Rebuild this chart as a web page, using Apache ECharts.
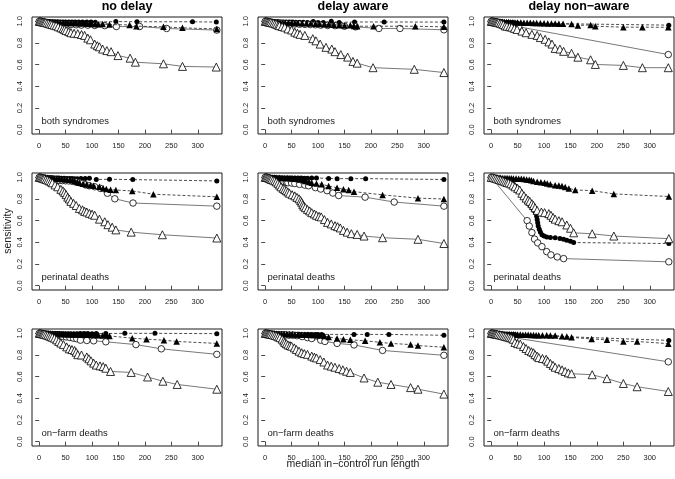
<!DOCTYPE html>
<html><head><meta charset="utf-8">
<script src="https://cdn.jsdelivr.net/npm/echarts@6/dist/echarts.min.js"></script>
<style>html,body{margin:0;padding:0;background:#fff}#c{width:675px;height:479px}</style>
</head><body><div id="c"></div>
<script>
const columnTitles = ['no delay', 'delay aware', 'delay non\u2212aware'];
const rowLabels = ['both syndromes', 'perinatal deaths', 'on\u2212farm deaths'];
const xAxisTitle = 'median in\u2212control run length';
const yAxisTitle = 'sensitivity';
const xTicks = [0, 50, 100, 150, 200, 250, 300];
const yTicks = [0, 0.2, 0.4, 0.6, 0.8, 1.0];

// ---------- no delay / both syndromes ----------
const noDelay_both_filledCircle = [[0,1],[2,1],[4,1],[6,1],[8,1],[10,1],[13,1],[16,0.998],[19,0.998],[22,0.997],[26,0.997],[30,0.996],[35,0.996],[40,0.995],[45,0.995],[50,0.995],[56,0.994],[62,0.994],[68,0.993],[75,0.993],[82,0.993],[90,0.993],[98,0.993],[106,0.992],[145,0.998],[185,0.996],[290,0.996],[335,0.993]];
const noDelay_both_openCircle = [[0,1],[3,0.998],[6,0.995],[10,0.99],[15,0.985],[20,0.98],[25,0.978],[30,0.975],[36,0.975],[42,0.972],[50,0.97],[60,0.97],[70,0.968],[80,0.965],[92,0.965],[105,0.962],[124,0.96],[146,0.952],[190,0.952],[241,0.934],[336,0.919]];
const noDelay_both_filledTriangle = [[0,1],[3,1],[6,1],[9,0.998],[12,0.997],[15,0.996],[20,0.995],[25,0.993],[30,0.99],[35,0.99],[40,0.988],[45,0.988],[50,0.986],[55,0.985],[60,0.985],[65,0.984],[70,0.984],[75,0.983],[80,0.982],[85,0.982],[90,0.98],[95,0.978],[100,0.976],[106,0.975],[112,0.972],[120,0.975],[133,0.97],[171,0.967],[184,0.955],[235,0.949],[271,0.94],[336,0.93]];
const noDelay_both_openTriangle = [[0,1],[2,1],[4,0.998],[6,0.995],[8,0.993],[10,0.99],[12,0.988],[15,0.985],[18,0.98],[21,0.975],[24,0.97],[28,0.965],[32,0.96],[36,0.95],[41,0.94],[45,0.932],[48,0.925],[51,0.915],[56,0.905],[60,0.895],[66,0.89],[73,0.886],[80,0.878],[86,0.87],[92,0.845],[97,0.83],[105,0.79],[110,0.775],[114,0.765],[120,0.744],[128,0.73],[136,0.72],[149,0.684],[172,0.66],[182,0.623],[235,0.608],[271,0.584],[335,0.578]];

// ---------- delay aware / both syndromes ----------
const delayAware_both_filledCircle = [[0,1],[3,1],[6,1],[9,1],[12,1],[16,0.998],[20,0.997],[25,0.996],[30,0.995],[35,0.995],[40,0.994],[46,0.993],[52,0.993],[58,0.992],[65,0.992],[72,0.991],[80,0.99],[91,0.998],[100,0.99],[110,0.99],[125,1.0],[140,0.99],[169,0.994],[225,0.994],[338,0.993]];
const delayAware_both_openCircle = [[0,1],[4,0.997],[8,0.993],[12,0.99],[17,0.987],[22,0.985],[28,0.982],[34,0.98],[40,0.978],[48,0.976],[56,0.975],[65,0.973],[75,0.972],[85,0.97],[95,0.968],[105,0.965],[118,0.962],[132,0.96],[150,0.955],[171,0.949],[215,0.934],[255,0.934],[338,0.922]];
const delayAware_both_filledTriangle = [[0,1],[3,1],[6,1],[10,0.998],[14,0.997],[18,0.995],[23,0.993],[28,0.99],[33,0.99],[38,0.988],[44,0.987],[50,0.986],[56,0.985],[62,0.984],[70,0.983],[78,0.982],[86,0.98],[95,0.978],[103,0.975],[112,0.972],[120,0.97],[130,0.968],[140,0.965],[150,0.962],[161,0.964],[168,0.958],[174,0.955],[205,0.955],[284,0.955],[338,0.949]];
const delayAware_both_openTriangle = [[0,1],[2,1],[4,0.998],[6,0.995],[8,0.993],[10,0.99],[13,0.987],[16,0.983],[19,0.978],[22,0.972],[25,0.965],[27,0.96],[32,0.952],[37,0.946],[43,0.93],[50,0.92],[56,0.9],[61,0.89],[66,0.88],[75,0.87],[90,0.84],[96,0.82],[104,0.79],[115,0.76],[126,0.744],[132,0.72],[143,0.693],[156,0.67],[166,0.63],[174,0.614],[204,0.572],[282,0.557],[338,0.527]];

// ---------- delay non-aware / both syndromes ----------
const delayNonAware_both_filledCircle = [[0,1],[2,1],[4,1],[6,0.999],[8,0.998],[10,0.997],[13,0.996],[16,0.995],[19,0.994],[22,0.993],[25,0.992],[28,0.99],[31,0.989],[34,0.988],[37,0.987],[40,0.986],[43,0.985],[46,0.984],[50,0.983],[336,0.965]];
const delayNonAware_both_openCircle = [[0,1],[3,0.998],[6,0.995],[9,0.992],[12,0.99],[15,0.987],[18,0.984],[21,0.981],[24,0.978],[27,0.975],[30,0.972],[33,0.97],[36,0.967],[40,0.963],[44,0.96],[48,0.955],[52,0.95],[335,0.693]];
const delayNonAware_both_filledTriangle = [[0,1],[3,1],[6,1],[9,1],[12,0.999],[15,0.998],[18,0.997],[21,0.996],[25,0.995],[29,0.994],[33,0.993],[37,0.992],[41,0.991],[45,0.99],[50,0.99],[56,0.989],[62,0.988],[68,0.987],[74,0.986],[80,0.985],[86,0.984],[93,0.983],[100,0.982],[107,0.981],[114,0.98],[121,0.979],[128,0.978],[136,0.977],[152,0.975],[164,0.962],[188,0.967],[197,0.955],[250,0.946],[286,0.946],[335,0.945]];
const delayNonAware_both_openTriangle = [[0,1],[2,1],[4,0.998],[6,0.996],[8,0.994],[10,0.992],[12,0.99],[14,0.987],[17,0.983],[20,0.978],[23,0.97],[26.5,0.958],[30,0.955],[35,0.95],[39,0.946],[44,0.935],[49,0.925],[58,0.91],[66,0.895],[77,0.88],[87,0.87],[93,0.85],[102,0.834],[109,0.81],[115,0.79],[121,0.75],[130,0.744],[137,0.723],[152,0.705],[164,0.669],[188,0.645],[197,0.602],[250,0.593],[286,0.572],[335,0.572]];

// ---------- no delay / perinatal deaths ----------
const noDelay_peri_filledCircle = [[0,1],[3,1],[6,1],[9,1],[12,1],[15,0.999],[18,0.998],[21,0.997],[25,0.996],[29,0.995],[33,0.994],[37,0.993],[42,0.992],[47,0.991],[52,0.99],[57,0.99],[62,0.989],[67,0.988],[72,0.988],[79,0.99],[87,0.99],[95,0.992],[108,0.98],[133,0.982],[177,0.979],[336,0.967]];
const noDelay_peri_openCircle = [[0,1],[3,0.998],[6,0.996],[9,0.993],[12,0.99],[16,0.987],[20,0.984],[24,0.981],[28,0.978],[33,0.975],[38,0.972],[44,0.97],[50,0.968],[56,0.967],[63,0.963],[70,0.957],[76,0.95],[82,0.943],[88,0.93],[95,0.922],[105,0.913],[116,0.898],[129,0.853],[143,0.802],[177.5,0.763],[336,0.734]];
const noDelay_peri_filledTriangle = [[0,1],[3,1],[6,1],[9,0.999],[12,0.998],[16,0.996],[20,0.994],[24,0.992],[28,0.99],[33,0.988],[38,0.986],[43,0.984],[48,0.982],[53,0.98],[58,0.977],[63,0.972],[67,0.967],[72,0.958],[76,0.949],[83,0.94],[90,0.934],[97,0.928],[103,0.922],[114,0.913],[121,0.9],[127,0.892],[135,0.885],[145,0.883],[176,0.874],[216,0.844],[336,0.82]];
const noDelay_peri_openTriangle = [[0,1],[2,1],[4,0.997],[6,0.993],[8,0.99],[10,0.986],[13,0.981],[16,0.975],[19,0.968],[22,0.958],[25,0.949],[30,0.93],[35,0.913],[41,0.889],[45,0.875],[48,0.859],[51,0.84],[54,0.817],[57,0.8],[60,0.778],[65,0.76],[70,0.74],[76,0.713],[82,0.7],[86,0.686],[90,0.68],[95,0.668],[100,0.66],[105,0.65],[114,0.614],[124,0.59],[130,0.563],[138,0.54],[145,0.515],[174,0.494],[233,0.47],[336,0.44]];

// ---------- delay aware / perinatal deaths ----------
const delayAware_peri_filledCircle = [[0,1],[3,1],[6,1],[9,1],[12,1],[16,0.999],[20,0.998],[25,0.997],[30,0.996],[35,0.995],[40,0.995],[45,0.994],[50,0.994],[56,0.993],[62,0.993],[68,0.993],[74,0.992],[80,0.992],[88,0.993],[97,0.994],[120,0.99],[136,0.988],[162,0.988],[190,0.988],[338,0.98]];
const delayAware_peri_openCircle = [[0,1],[3,0.997],[6,0.993],[9,0.989],[12,0.985],[16,0.98],[20,0.976],[25,0.972],[30,0.968],[35,0.962],[40,0.955],[43,0.95],[50,0.947],[56,0.943],[65,0.935],[75,0.928],[82,0.922],[95,0.905],[105,0.892],[117,0.877],[128,0.855],[139,0.832],[189,0.817],[244,0.772],[338,0.734]];
const delayAware_peri_filledTriangle = [[0,1],[3,1],[6,1],[10,1],[14,0.999],[18,0.998],[22,0.997],[27,0.996],[32,0.995],[37,0.994],[42,0.993],[47,0.992],[52,0.99],[57,0.988],[62,0.985],[66,0.979],[72,0.972],[77,0.967],[83,0.958],[88,0.949],[97,0.943],[107,0.937],[120,0.919],[136,0.904],[148,0.889],[158,0.883],[168,0.868],[222,0.838],[289,0.808],[338,0.8]];
const delayAware_peri_openTriangle = [[0,1],[2,1],[4,0.998],[6,0.995],[8,0.99],[10,0.985],[12,0.98],[15,0.975],[18,0.968],[21,0.958],[24,0.945],[27,0.928],[30,0.912],[34,0.898],[37,0.888],[40,0.877],[43,0.865],[46,0.853],[51,0.84],[56,0.829],[60,0.815],[64,0.802],[67,0.785],[69,0.77],[71,0.75],[73,0.734],[76,0.72],[80,0.704],[84,0.69],[88,0.674],[93,0.662],[97,0.65],[102,0.64],[106,0.635],[112,0.61],[118,0.584],[125,0.57],[132,0.554],[137,0.545],[142,0.533],[148,0.51],[155,0.494],[163,0.48],[174,0.473],[187,0.458],[222,0.443],[289,0.428],[338,0.389]];

// ---------- delay non-aware / perinatal deaths ----------
const delayNonAware_peri_filledCircle = [[0,1],[2,1],[4,0.998],[6,0.996],[8,0.994],[10,0.992],[12,0.99],[15,0.988],[18,0.985],[21,0.982],[24,0.98],[27,0.978],[30,0.975],[33,0.97],[36,0.962],[39,0.95],[42,0.935],[45,0.92],[48,0.905],[51,0.89],[54,0.87],[57,0.85],[60,0.83],[63,0.81],[66,0.79],[69,0.77],[72,0.75],[75,0.735],[78,0.715],[81,0.695],[84,0.67],[86,0.64],[87,0.61],[88,0.58],[89,0.55],[91,0.52],[93,0.495],[96,0.47],[100,0.458],[105,0.449],[112,0.445],[121,0.443],[130,0.435],[137,0.428],[143,0.42],[150,0.41],[156,0.398],[336,0.389]];
const delayNonAware_peri_openCircle = [[0,1],[68,0.6],[72,0.55],[77,0.49],[82,0.43],[88,0.395],[96,0.36],[105,0.314],[113,0.284],[125,0.265],[137,0.25],[336,0.22]];
const delayNonAware_peri_filledTriangle = [[0,1],[3,1],[6,1],[9,0.999],[12,0.998],[15,0.997],[18,0.996],[22,0.995],[26,0.994],[30,0.993],[34,0.992],[38,0.991],[42,0.99],[47,0.989],[52,0.988],[57,0.986],[62,0.984],[67,0.981],[72,0.978],[76,0.973],[80,0.967],[87,0.96],[94,0.955],[101,0.949],[106,0.943],[112,0.937],[121,0.928],[128,0.925],[134,0.919],[140,0.91],[147,0.898],[159,0.883],[191,0.877],[232,0.847],[336,0.823]];
const delayNonAware_peri_openTriangle = [[0,1],[3,0.998],[6,0.995],[9,0.99],[12,0.985],[15,0.98],[18,0.975],[21,0.97],[24,0.965],[27,0.958],[30,0.952],[33,0.949],[37,0.94],[41,0.928],[45,0.913],[50,0.898],[54,0.883],[58,0.853],[62,0.83],[66,0.808],[70,0.79],[73,0.778],[77,0.757],[80,0.74],[83,0.719],[87,0.695],[95,0.68],[101,0.674],[109,0.665],[113,0.65],[117,0.63],[121,0.614],[128,0.6],[134,0.59],[143,0.56],[150,0.53],[156,0.488],[191,0.479],[232,0.458],[336,0.434]];

// ---------- no delay / on-farm deaths ----------
const noDelay_farm_filledCircle = [[0,1],[3,1],[6,1],[9,1],[12,1],[15,1],[18,1],[21,1],[25,1],[29,0.998],[33,0.998],[37,0.998],[41,0.997],[45,0.997],[50,0.997],[55,0.997],[60,0.997],[66,0.997],[72,0.997],[78,0.998],[85,0.998],[92,0.998],[100,0.997],[108,0.998],[126,0.998],[162,1.0],[219,1.0],[336,0.997]];
const noDelay_farm_openCircle = [[0,1],[3,0.998],[6,0.996],[10,0.994],[14,0.992],[18,0.99],[22,0.988],[25,0.986],[30,0.982],[34,0.979],[38,0.976],[44,0.972],[51,0.967],[58,0.962],[65,0.955],[71,0.95],[78,0.937],[90,0.934],[103,0.931],[126,0.922],[183,0.896],[231,0.857],[336,0.806]];
const noDelay_farm_filledTriangle = [[0,1],[3,1],[6,1],[9,1],[12,1],[15,0.999],[18,0.999],[22,0.998],[26,0.997],[30,0.996],[34,0.995],[38,0.994],[42,0.993],[46,0.993],[50,0.992],[55,0.991],[60,0.99],[65,0.99],[70,0.99],[76,0.989],[82,0.988],[88,0.987],[94,0.986],[100,0.985],[106,0.984],[112,0.982],[120,0.98],[126,0.99],[128,0.985],[133,0.976],[176,0.955],[203,0.946],[236,0.937],[260,0.925],[336,0.907]];
const noDelay_farm_openTriangle = [[0,1],[2,1],[4,0.998],[6,0.996],[8,0.994],[10,0.991],[13,0.987],[16,0.982],[19,0.976],[22,0.97],[25,0.963],[29,0.955],[33,0.94],[37,0.925],[41,0.91],[46,0.896],[52,0.875],[57,0.857],[62,0.85],[67,0.842],[70,0.825],[73,0.803],[80,0.8],[90,0.782],[94,0.765],[98,0.746],[103,0.725],[108,0.707],[115,0.7],[121,0.693],[126,0.678],[135,0.648],[174,0.639],[205,0.597],[234,0.558],[261,0.528],[336,0.484]];

// ---------- delay aware / on-farm deaths ----------
const delayAware_farm_filledCircle = [[0,1],[3,1],[6,1],[9,1],[12,1],[16,1],[20,0.999],[25,0.998],[30,0.997],[35,0.996],[40,0.995],[46,0.994],[52,0.993],[58,0.992],[64,0.991],[70,0.99],[76,0.99],[82,0.99],[88,0.99],[95,0.99],[100,0.99],[107,0.99],[168,0.99],[193,0.99],[234,0.99],[338,0.982]];
const delayAware_farm_openCircle = [[0,1],[3,0.998],[6,0.996],[9,0.994],[13,0.992],[17,0.99],[22,0.988],[27,0.986],[32,0.985],[38,0.984],[45,0.983],[52,0.982],[60,0.978],[70,0.97],[80,0.96],[88,0.952],[105,0.937],[113,0.925],[136,0.907],[168,0.893],[222,0.842],[338,0.797]];
const delayAware_farm_filledTriangle = [[0,1],[3,1],[6,1],[9,1],[13,0.999],[17,0.998],[21,0.997],[26,0.996],[31,0.995],[36,0.994],[41,0.993],[46,0.992],[51,0.991],[56,0.99],[62,0.989],[68,0.988],[74,0.987],[80,0.986],[86,0.985],[92,0.984],[98,0.983],[104,0.98],[112,0.975],[120,0.967],[136,0.952],[148,0.946],[161,0.94],[189,0.931],[217,0.917],[238,0.907],[275,0.896],[289,0.887],[338,0.872]];
const delayAware_farm_openTriangle = [[0,1],[2,1],[4,0.998],[6,0.996],[8,0.994],[10,0.992],[13,0.989],[16,0.985],[19,0.98],[22,0.975],[25,0.968],[28,0.96],[32,0.946],[35,0.93],[37,0.916],[40,0.905],[43,0.893],[47,0.887],[50,0.881],[55,0.866],[59,0.851],[64,0.835],[69,0.821],[74,0.813],[80,0.806],[88,0.79],[93,0.78],[97,0.773],[104,0.758],[111,0.735],[118,0.707],[125,0.697],[132,0.687],[140,0.675],[147,0.663],[154,0.65],[161,0.639],[187,0.588],[213,0.549],[238,0.528],[275,0.499],[289,0.484],[338,0.439]];

// ---------- delay non-aware / on-farm deaths ----------
const delayNonAware_farm_filledCircle = [[0,1],[2,1],[4,1],[6,0.999],[8,0.998],[10,0.997],[13,0.996],[16,0.995],[19,0.994],[22,0.993],[25,0.992],[28,0.991],[31,0.99],[34,0.989],[37,0.988],[40,0.987],[43,0.986],[46,0.985],[336,0.935]];
const delayNonAware_farm_openCircle = [[0,1],[3,0.998],[6,0.995],[9,0.992],[12,0.99],[15,0.987],[18,0.984],[21,0.981],[24,0.978],[27,0.975],[30,0.972],[33,0.969],[36,0.966],[39,0.963],[42,0.96],[45,0.957],[335,0.737]];
const delayNonAware_farm_filledTriangle = [[0,1],[3,1],[6,1],[9,1],[12,0.999],[15,0.998],[18,0.997],[22,0.996],[26,0.995],[30,0.994],[34,0.993],[38,0.992],[42,0.991],[46,0.99],[50,0.99],[55,0.989],[60,0.988],[65,0.987],[70,0.986],[75,0.985],[80,0.984],[85,0.983],[90,0.982],[97,0.982],[105,0.982],[112,0.981],[121,0.98],[134,0.972],[143,0.97],[152,0.963],[190,0.948],[219,0.94],[250,0.925],[276,0.925],[335,0.905]];
const delayNonAware_farm_openTriangle = [[0,1],[2,1],[4,0.998],[6,0.996],[8,0.994],[10,0.992],[12,0.99],[15,0.987],[18,0.984],[21,0.98],[24,0.976],[27,0.972],[30,0.968],[33,0.965],[36,0.96],[39,0.955],[42,0.945],[45,0.916],[50,0.905],[55,0.9],[61,0.878],[66,0.86],[71,0.842],[76,0.83],[80,0.821],[83,0.803],[87,0.79],[90,0.776],[97,0.768],[104,0.761],[107,0.743],[112,0.722],[117,0.705],[121,0.687],[128,0.675],[134,0.663],[140,0.648],[146,0.635],[152,0.627],[191,0.618],[219,0.582],[250,0.537],[276,0.507],[335,0.463]];

const panels = [
  [noDelay_both_filledCircle, noDelay_both_openCircle, noDelay_both_filledTriangle, noDelay_both_openTriangle],
  [delayAware_both_filledCircle, delayAware_both_openCircle, delayAware_both_filledTriangle, delayAware_both_openTriangle],
  [delayNonAware_both_filledCircle, delayNonAware_both_openCircle, delayNonAware_both_filledTriangle, delayNonAware_both_openTriangle],
  [noDelay_peri_filledCircle, noDelay_peri_openCircle, noDelay_peri_filledTriangle, noDelay_peri_openTriangle],
  [delayAware_peri_filledCircle, delayAware_peri_openCircle, delayAware_peri_filledTriangle, delayAware_peri_openTriangle],
  [delayNonAware_peri_filledCircle, delayNonAware_peri_openCircle, delayNonAware_peri_filledTriangle, delayNonAware_peri_openTriangle],
  [noDelay_farm_filledCircle, noDelay_farm_openCircle, noDelay_farm_filledTriangle, noDelay_farm_openTriangle],
  [delayAware_farm_filledCircle, delayAware_farm_openCircle, delayAware_farm_filledTriangle, delayAware_farm_openTriangle],
  [delayNonAware_farm_filledCircle, delayNonAware_farm_openCircle, delayNonAware_farm_filledTriangle, delayNonAware_farm_openTriangle]
];

// ---------- layout / styles ----------
const FONT = '"Liberation Sans", Arial, Helvetica, sans-serif';
const INK = '#1a1a1a';
const G = { left0: 32, dx: 226, top0: 17, dy: 156, w: 190, h: 117 };
const styles = [
  { symbol: 'circle',   size: 5, fill: '#000', dashed: true },
  { symbol: 'circle',   size: 6.5, fill: '#fff', dashed: false },
  { symbol: 'triangle', size: 6.5, fill: '#000', dashed: true },
  { symbol: 'triangle', size: 8, fill: '#fff', dashed: false }
];

const grids = [], xAxes = [], yAxes = [], series = [], graphics = [];
for (let i = 0; i < 9; i++) {
  const r = Math.floor(i / 3), c = i % 3;
  const left = G.left0 + G.dx * c, top = G.top0 + G.dy * r;
  grids.push({ left, top, width: G.w, height: G.h, show: true, borderColor: INK, borderWidth: 1, backgroundColor: 'transparent' });
  xAxes.push({
    type: 'value', gridIndex: i, min: -13.6, max: 345.8,
    splitLine: { show: false }, axisLine: { show: false },
    axisTick: { show: true, customValues: xTicks, length: 4, inside: false, lineStyle: { color: INK, width: 0.8 } },
    axisLabel: { customValues: xTicks, fontSize: 7.5, color: INK, fontFamily: FONT, margin: 8 }
  });
  yAxes.push({
    type: 'value', gridIndex: i, min: -0.04, max: 1.04,
    splitLine: { show: false }, axisLine: { show: false },
    axisTick: { show: true, customValues: yTicks, length: 4, lineStyle: { color: INK, width: 0.8 } },
    axisLabel: { customValues: yTicks, rotate: 90, fontSize: 7.5, color: INK, fontFamily: FONT, margin: 8,
      formatter: v => Number(v).toFixed(1) }
  });
  panels[i].forEach((data, k) => {
    const s = styles[k];
    series.push({
      type: 'line', xAxisIndex: i, yAxisIndex: i, data: data,
      symbol: s.symbol, symbolSize: s.size, showSymbol: true, showAllSymbol: true,
      animation: false, silent: true, z: 2 + k,
      lineStyle: { color: s.dashed ? '#222' : '#555', width: 0.8, type: s.dashed ? [3, 2] : 'solid' },
      itemStyle: { color: s.fill, borderColor: '#000', borderWidth: s.fill === '#fff' ? 0.8 : 0 },
      emphasis: { disabled: true }
    });
  });
  graphics.push({ type: 'text', left: left + 9.5, top: top + G.h - 18,
    style: { text: rowLabels[r], font: '9.5px ' + FONT, fill: INK } });
  if (r === 0) {
    graphics.push({ type: 'text', x: left + G.w / 2, y: 7,
      style: { text: columnTitles[c], font: 'bold 12.5px ' + FONT, fill: '#000', align: 'center', verticalAlign: 'middle' } });
  }
}
graphics.push({ type: 'text', x: 353, y: 464,
  style: { text: xAxisTitle, font: '10.5px ' + FONT, fill: INK, align: 'center', verticalAlign: 'middle' } });
graphics.push({ type: 'text', x: 8, y: 231, rotation: Math.PI / 2,
  style: { text: yAxisTitle, font: '10.5px ' + FONT, fill: INK, align: 'center', verticalAlign: 'middle' } });

const chart = echarts.init(document.getElementById('c'), null, { renderer: 'canvas' });
chart.setOption({
  animation: false,
  backgroundColor: '#fff',
  grid: grids, xAxis: xAxes, yAxis: yAxes, series: series,
  graphic: graphics
});
</script>
</body></html>
